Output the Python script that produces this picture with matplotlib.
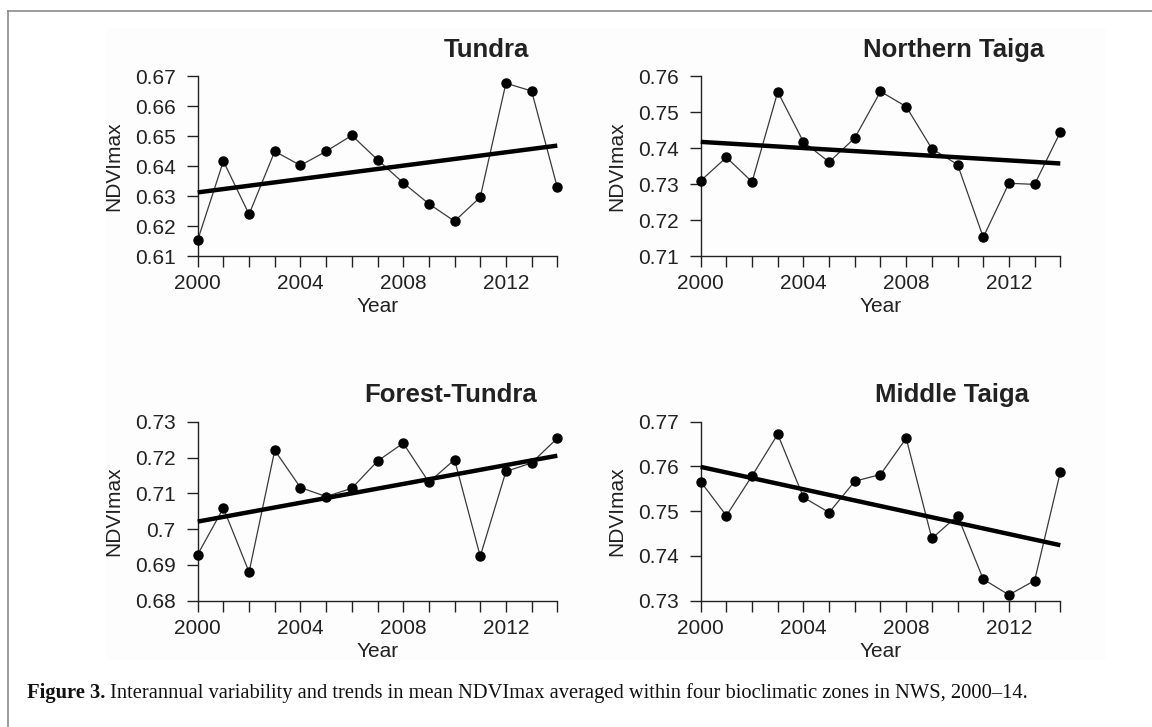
import matplotlib
matplotlib.use("Agg")
import matplotlib.pyplot as plt
import numpy as np

plt.rcParams["font.family"] = ["Liberation Sans", "DejaVu Sans"]

years = np.arange(2000, 2015)

# NDVImax per zone
tundra = [0.6153, 0.6416, 0.6239, 0.6449, 0.6402, 0.6449, 0.6502, 0.6421,
          0.6344, 0.6274, 0.6216, 0.6296, 0.6676, 0.6650, 0.6329]
northern_taiga = [0.7309, 0.7374, 0.7306, 0.7556, 0.7417, 0.7361, 0.7428, 0.7557,
                  0.7515, 0.7398, 0.7354, 0.7152, 0.7302, 0.7299, 0.7444]
forest_tundra = [0.6929, 0.7059, 0.6880, 0.7220, 0.7116, 0.7091, 0.7114, 0.7190,
                 0.7240, 0.7131, 0.7194, 0.6924, 0.7161, 0.7185, 0.7254]
middle_taiga = [0.7566, 0.7490, 0.7579, 0.7672, 0.7531, 0.7497, 0.7567, 0.7582,
                0.7663, 0.7439, 0.7490, 0.7348, 0.7313, 0.7345, 0.7587]

# trend line ends (2000, 2014)
trend_tundra = [0.6312, 0.6468]
trend_northern = [0.7417, 0.7357]
trend_forest = [0.7021, 0.7205]
trend_middle = [0.7599, 0.7424]

titles = ["Tundra", "Northern Taiga", "Forest-Tundra", "Middle Taiga"]
ylims = [(0.61, 0.67), (0.71, 0.76), (0.68, 0.73), (0.73, 0.77)]
ytick_labels = [["0.61", "0.62", "0.63", "0.64", "0.65", "0.66", "0.67"],
                ["0.71", "0.72", "0.73", "0.74", "0.75", "0.76"],
                ["0.68", "0.69", "0.7", "0.71", "0.72", "0.73"],
                ["0.73", "0.74", "0.75", "0.76", "0.77"]]
xtick_major = [2000, 2004, 2008, 2012]

series = [tundra, northern_taiga, forest_tundra, middle_taiga]
trends = [trend_tundra, trend_northern, trend_forest, trend_middle]

W, H = 1152, 727
fig = plt.figure(figsize=(W / 100, H / 100), dpi=100)

# page frame and caption on a background axes
bg = fig.add_axes([0, 0, 1, 1], zorder=-1)
bg.set_xlim(0, W)
bg.set_ylim(H, 0)
bg.axis("off")
bg.add_patch(plt.Rectangle((106, 28), 1000, 632, color="#fdfdfd", lw=0))
bg.plot([8, W], [10.5, 10.5], color="#8a8a8a", lw=1.2)
bg.plot([8, 8], [10.5, H], color="#8a8a8a", lw=1.2)

t1 = bg.text(27, 698, "Figure 3.", family="Liberation Serif", weight="bold",
             fontsize=14.8, va="baseline", color="#111111")
bg.annotate("Interannual variability and trends in mean NDVImax averaged within four "
            "bioclimatic zones in NWS, 2000\u201314.",
            xy=(1, 0), xycoords=t1, xytext=(3, 0), textcoords="offset points",
            va="bottom", family="Liberation Serif", fontsize=14.8, color="#111111")

# axes positions in pixels: left, top, right, bottom
boxes = [(197.7, 76, 557.3, 256), (700.7, 76, 1060.3, 256),
         (197.7, 421.7, 557.3, 600.7), (700.7, 421.7, 1060.3, 600.7)]
title_pos = [(0.803, 1.107), (0.702, 1.107), (0.704, 1.112), (0.700, 1.112)]

ink = "#222222"
for i in range(4):
    l, t, r, b = boxes[i]
    ax = fig.add_axes([l / W, 1 - b / H, (r - l) / W, (b - t) / H])
    ax.set_facecolor("none")
    ax.plot(years, series[i], color="#3a3a3a", lw=0.9, marker="o", ms=6.5,
            mfc="black", mec="black", clip_on=False, zorder=3)
    ax.plot([years[0], years[-1]], trends[i], color="black", lw=3.2,
            solid_capstyle="butt", clip_on=False, zorder=4)

    ax.set_xlim(2000, 2014)
    ax.set_ylim(*ylims[i])
    ax.set_xticks(years, minor=True)
    ax.set_xticks(xtick_major)
    ax.set_xticklabels([str(y) for y in xtick_major])
    ax.set_yticks([float(v) for v in ytick_labels[i]])
    ax.set_yticklabels(ytick_labels[i])

    for s in ["top", "right"]:
        ax.spines[s].set_visible(False)
    for s in ["left", "bottom"]:
        ax.spines[s].set_color(ink)
        ax.spines[s].set_linewidth(1.0)
    ax.tick_params(axis="both", which="both", direction="out", length=8,
                   width=1.0, color=ink, labelcolor=ink, labelsize=15)
    ax.tick_params(axis="y", pad=8)
    ax.tick_params(axis="x", pad=5)

    ax.set_xlabel("Year", fontsize=15, color=ink, labelpad=3)
    ax.set_ylabel("NDVImax", fontsize=15, color=ink, labelpad=8)
    ax.text(title_pos[i][0], title_pos[i][1], titles[i], transform=ax.transAxes,
            ha="center", va="baseline", fontsize=18.5, weight="bold", color=ink)

fig.savefig("out.png", dpi=100)
